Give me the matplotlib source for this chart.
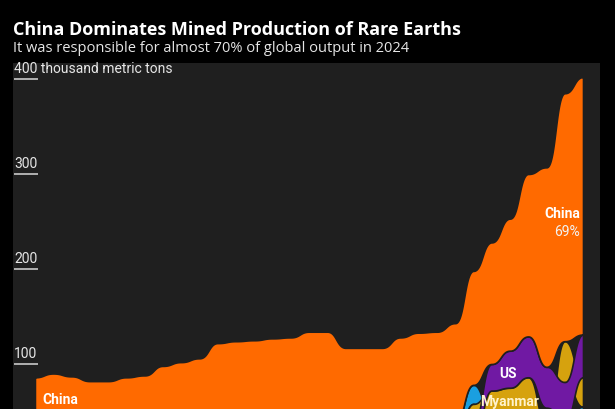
import numpy as np
import matplotlib.pyplot as plt

# Mined production, thousand metric tons
years = list(range(1994, 2025))
china = [51, 53, 53, 59, 65, 71, 75, 87, 92, 101, 117, 119, 120, 122, 123, 130,
         130, 110, 100, 104, 107, 110, 110, 105, 120, 128, 139, 171, 210, 261, 271]
us = [20, 22, 20, 10, 5, 5, 5, 5, 5, 0, 0, 0, 0, 0, 0, 0,
      0, 0, 7, 5, 5, 4, 0, 0, 18, 28, 39, 43, 43, 41, 45]
myanmar = [0] * 23 + [2, 19, 25, 31, 35, 12, 43, 31]
australia = [0] * 17 + [2, 4, 2, 8, 10, 14, 19, 20, 21, 21, 24, 18, 16, 13]
rest_of_world = [15, 15, 14, 13, 12, 10, 8, 6, 5, 5, 5, 5, 5, 5, 5, 4,
                 4, 5, 6, 6, 8, 9, 10, 17, 21, 26, 23, 27, 24, 24, 42]

y_ticks = [100, 200, 300, 400]

colors = {
    "rest": "#7d7d7d",
    "australia": "#1a9fe0",
    "myanmar": "#d6a20e",
    "us": "#7019a3",
    "china": "#ff6a00",
}
panel = "#1f1f1f"


def bump(x, y, steps=60):
    # horizontal tangent at every point (like d3.curveBumpX)
    x = np.asarray(x, float)
    y = np.asarray(y, float)
    t = np.linspace(0, 1, steps)
    fx = 1.5 * t * (1 - t) + t**3
    fy = 3 * t**2 - 2 * t**3
    xs, ys = [], []
    for i in range(len(x) - 1):
        xs.append(x[i] + (x[i + 1] - x[i]) * fx)
        ys.append(y[i] + (y[i + 1] - y[i]) * fy)
    return np.concatenate(xs), np.concatenate(ys)


# stack: rest at bottom, the three small producers sorted by size, China on top
n = len(years)
lo = {k: np.zeros(n) for k in colors}
hi = {k: np.zeros(n) for k in colors}
for i in range(n):
    base = rest_of_world[i]
    lo["rest"][i], hi["rest"][i] = 0, base
    small = sorted([("australia", australia[i]), ("myanmar", myanmar[i]), ("us", us[i])],
                   key=lambda p: p[1])
    for name, v in small:
        lo[name][i], hi[name][i] = base, base + v
        base += v
    lo["china"][i], hi["china"][i] = base, base + china[i]

fig = plt.figure(figsize=(6.15, 4.1), dpi=100, facecolor="black")

# axes runs below the bottom edge of the figure, like the cropped original
ax = fig.add_axes([13 / 615, -50 / 410, 587 / 615, 396 / 410])
ax.set_facecolor(panel)
ax.set_xlim(1992.8, 2024.93)
ax.set_ylim(0, 416.8)
for s in ax.spines.values():
    s.set_visible(False)
ax.set_xticks([])
ax.set_yticks([])

for name in ["rest", "australia", "myanmar", "us", "china"]:
    xs, y_lo = bump(years, lo[name])
    _, y_hi = bump(years, hi[name])
    ax.fill_between(xs, y_lo, y_hi, facecolor=colors[name], edgecolor=panel, linewidth=1.2)

# y axis labels with short underlines
tr = ax.get_yaxis_transform()
for v in y_ticks:
    label = f"{v} thousand metric tons" if v == 400 else str(v)
    ax.text(0.002, v + 4, label, transform=tr, color="#e6e6e6", fontsize=10,
            family="Roboto", ha="left", va="bottom")
    ax.plot([0.002, 0.043], [v, v], transform=tr, color="#d8d8d8", lw=1.1,
            solid_capstyle="butt")

# layer labels
ax.text(1994.4, 63, "China", color="white", fontsize=10, family="Roboto",
        fontweight="bold", ha="left", va="center")
ax.text(2023.85, 259, "China", color="white", fontsize=10, family="Roboto",
        fontweight="bold", ha="right", va="center")
ax.text(2023.85, 240, "69%", color="#f2f2f2", fontsize=10, family="Roboto",
        ha="right", va="center")
ax.text(2019.9, 90, "US", color="white", fontsize=10, family="Roboto",
        fontweight="bold", ha="center", va="center")
ax.text(2020.0, 54, "Myanmar", color="#fff3cc", fontsize=10, family="Roboto",
        fontweight="bold", ha="center", va="bottom")

fig.text(13 / 615, 1 - 30 / 410, "China Dominates Mined Production of Rare Earths",
         color="white", fontsize=13, family="Open Sans", fontweight="bold",
         ha="left", va="center")
fig.text(13 / 615, 1 - 48 / 410, "It was responsible for almost 70% of global output in 2024",
         color="#e6e6e6", fontsize=10.5, family="Open Sans", ha="left", va="center")

fig.savefig("out.png", dpi=100, facecolor="black")
